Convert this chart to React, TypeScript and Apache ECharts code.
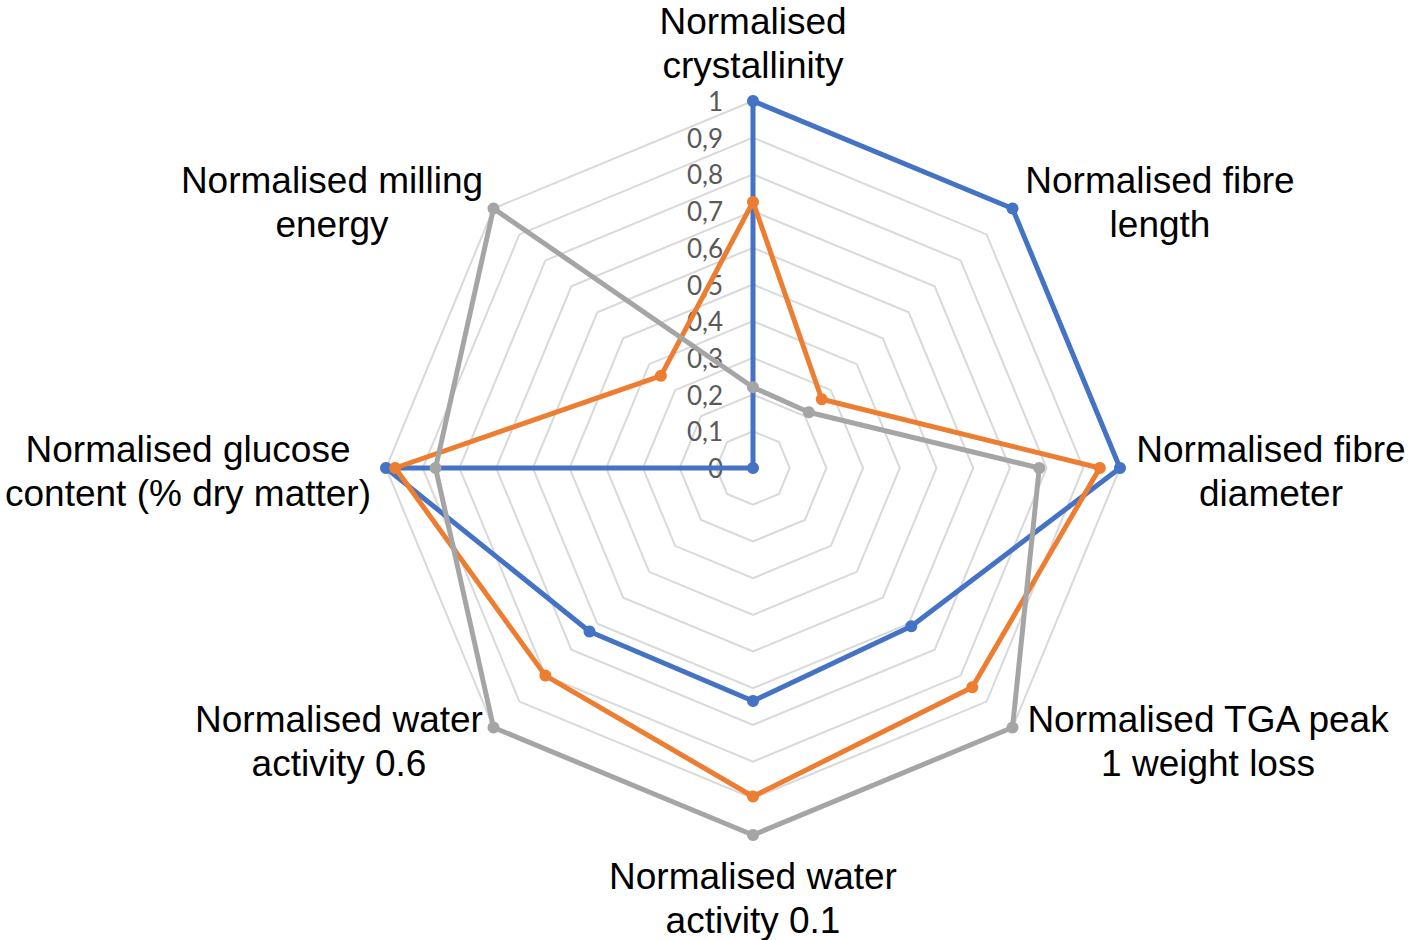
import React, { useEffect, useRef } from "react";
import * as echarts from "echarts";

// Categories in clockwise order, starting at the top
const categories = [
  "Normalised\ncrystallinity",
  "Normalised fibre\nlength",
  "Normalised fibre\ndiameter",
  "Normalised TGA peak\n1 weight loss",
  "Normalised water\nactivity 0.1",
  "Normalised water\nactivity 0.6",
  "Normalised glucose\ncontent (% dry matter)",
  "Normalised milling\nenergy",
];

const seriesBlue = [1, 1, 1, 0.61, 0.635, 0.63, 1, 0];
const seriesOrange = [0.725, 0.265, 0.945, 0.845, 0.895, 0.8, 0.975, 0.355];
const seriesGrey = [0.22, 0.215, 0.78, 1, 1, 1, 0.865, 1];

const tickLabels = ["0", "0,1", "0,2", "0,3", "0,4", "0,5", "0,6", "0,7", "0,8", "0,9", "1"];

// layout constants
const CX = 753;
const CY = 468;
const R = 367;
const labelOffsets: [number, number][] = [
  [0, -425],
  [407, -266],
  [518, 3],
  [455, 273],
  [0, 430],
  [-414, 273],
  [-565, 3],
  [-421, -266],
];

// ECharts radar goes counter-clockwise; reorder clockwise data
function ccw<T>(arr: T[]): T[] {
  return [arr[0], ...arr.slice(1).reverse()];
}

export default function App() {
  const ref = useRef<HTMLDivElement>(null);
  useEffect(() => {
    if (!ref.current) return;
    const chart = echarts.init(ref.current, undefined, { renderer: "svg" });
    const indicators = ccw(categories).map((name, i) => ({
      name,
      min: 0,
      max: 1,
      axisLabel:
        i === 0
          ? {
              show: true,
              color: "#595959",
              fontSize: 26,
              fontFamily: "Lato",
              margin: 30,
              lineHeight: 24,
              padding: [6, 0, 0, 0],
              formatter: (v: number) => tickLabels[Math.round(v * 10)],
            }
          : { show: false },
    }));
    const mk = (name: string, data: number[], color: string) => ({
      type: "radar",
      name,
      symbol: "circle",
      symbolSize: 12,
      lineStyle: { color, width: 5 },
      itemStyle: { color },
      data: [{ value: ccw(data), name }],
    });
    chart.setOption({
      animation: false,
      backgroundColor: "#ffffff",
      radar: {
        center: [CX, CY],
        radius: R,
        startAngle: 90,
        shape: "polygon",
        splitNumber: 10,
        indicator: indicators,
        axisName: { show: false },
        axisLine: { show: false },
        axisTick: { show: false },
        splitArea: { show: false },
        splitLine: { lineStyle: { color: "#D9D9D9", width: 2 } },
      },
      series: [
        mk("Series 1", seriesBlue, "#4472C4"),
        mk("Series 2", seriesOrange, "#ED7D31"),
        mk("Series 3", seriesGrey, "#A5A5A5"),
      ],
      graphic: categories.map((text, i) => ({
        type: "text",
        x: CX + labelOffsets[i][0],
        y: CY + labelOffsets[i][1],
        silent: true,
        style: {
          text,
          fill: "#000000",
          fontSize: 37,
          fontFamily: "Liberation Sans, Arial, sans-serif",
          align: "center",
          verticalAlign: "middle",
          lineHeight: 44,
        },
      })),
    });
    return () => chart.dispose();
  }, []);
  return (
    <div
      ref={ref}
      style={{ position: "absolute", left: 0, top: 0, width: 1410, height: 940, background: "#fff" }}
    />
  );
}
